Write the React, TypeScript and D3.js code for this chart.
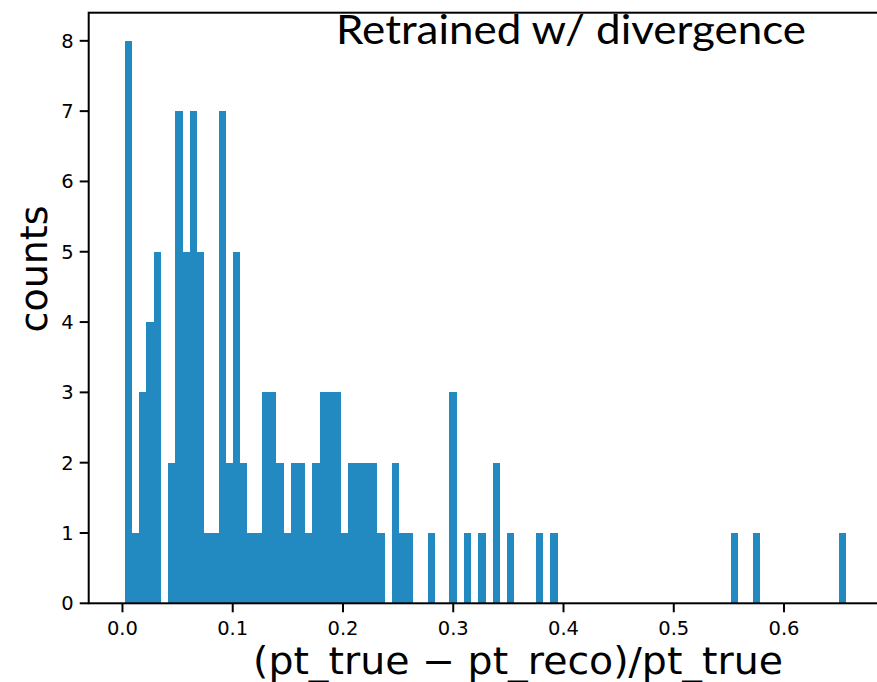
import React from "react";
import * as d3 from "d3";

// Histogram counts for 100 equal-width bins
const COUNTS: number[] = [
  8, 1, 3, 4, 5, 0, 2, 7, 5, 7,
  5, 1, 1, 7, 2, 5, 2, 1, 1, 3,
  3, 2, 1, 2, 2, 1, 2, 3, 3, 3,
  1, 2, 2, 2, 2, 1, 0, 2, 1, 1,
  0, 0, 1, 0, 0, 3, 0, 1, 0, 1,
  0, 2, 0, 1, 0, 0, 0, 1, 0, 1,
  0, 0, 0, 0, 0, 0, 0, 0, 0, 0,
  0, 0, 0, 0, 0, 0, 0, 0, 0, 0,
  0, 0, 0, 0, 1, 0, 0, 1, 0, 0,
  0, 0, 0, 0, 0, 0, 0, 0, 0, 1,
];
const BIN_START = 0.0021;
const BIN_WIDTH = 0.006544;

const X_TICKS = [0.0, 0.1, 0.2, 0.3, 0.4, 0.5, 0.6];
const Y_TICKS = [0, 1, 2, 3, 4, 5, 6, 7, 8];
const TITLE = "Retrained w/ divergence";
const X_LABEL = "(pt_true \u2212 pt_reco)/pt_true";
const Y_LABEL = "counts";

const W = 877;
const H = 682;
const LEFT = 88.7;
const RIGHT = 882.4;
const TOP = 12.7;
const BOTTOM = 603.3;

export default function App() {
  const binsLo = COUNTS.map((_, i) => BIN_START + i * BIN_WIDTH);
  const dataMin = BIN_START;
  const dataMax = BIN_START + COUNTS.length * BIN_WIDTH;
  const margin = 0.05 * (dataMax - dataMin);
  const x = d3.scaleLinear().domain([dataMin - margin, dataMax + margin]).range([LEFT, RIGHT]);
  const yMax = (d3.max(COUNTS) as number) * 1.05;
  const y = d3.scaleLinear().domain([0, yMax]).range([BOTTOM, TOP]);
  const color = "#228ac0";
  const tickFont = "DejaVu Sans, sans-serif";

  return (
    <div style={{ position: "absolute", left: 0, top: 0 }}>
      <svg width={W} height={H} style={{ display: "block", background: "#fff" }}>
        <rect x={0} y={0} width={W} height={H} fill="#fff" />
        {COUNTS.map((c, i) => {
          if (c <= 0) return null;
          const x0 = Math.round(x(binsLo[i]));
          const x1 = Math.round(x(binsLo[i] + BIN_WIDTH));
          return (
            <rect
              key={i}
              x={x0}
              y={y(c)}
              width={x1 - x0}
              height={y(0) - y(c)}
              fill={color}
              shapeRendering="crispEdges"
            />
          );
        })}
        {/* frame */}
        <rect
          x={x.range()[0]}
          y={TOP}
          width={x.range()[1] - x.range()[0]}
          height={BOTTOM - TOP}
          fill="none"
          stroke="#000"
          strokeWidth={2}
        />
        {/* x ticks */}
        {X_TICKS.map((t) => (
          <g key={"x" + t}>
            <line x1={x(t)} x2={x(t)} y1={BOTTOM} y2={BOTTOM + 9} stroke="#000" strokeWidth={2} />
            <text
              x={x(t)}
              y={635}
              textAnchor="middle"
              fontFamily={tickFont}
              fontSize={19.5}
              fill="#000"
            >
              {t.toFixed(1)}
            </text>
          </g>
        ))}
        {/* y ticks */}
        {Y_TICKS.map((t) => (
          <g key={"y" + t}>
            <line x1={LEFT - 9} x2={LEFT} y1={y(t)} y2={y(t)} stroke="#000" strokeWidth={2} />
            <text
              x={LEFT - 15}
              y={y(t)}
              dy="0.36em"
              textAnchor="end"
              fontFamily={tickFont}
              fontSize={19.5}
              fill="#000"
            >
              {t}
            </text>
          </g>
        ))}
        {/* title */}
        <text
          x={571}
          y={44}
          textAnchor="middle"
          fontFamily="Lato, 'Open Sans', sans-serif"
          fontSize={40}
          textLength={470}
          lengthAdjust="spacingAndGlyphs"
          fill="#000"
        >
          {TITLE}
        </text>
        {/* x label */}
        <text
          x={518}
          y={674}
          textAnchor="middle"
          fontFamily="DejaVu Sans, sans-serif"
          fontSize={37}
          textLength={530}
          lengthAdjust="spacingAndGlyphs"
          fill="#000"
        >
          {X_LABEL}
        </text>
        {/* y label */}
        <text
          transform={`translate(47, 269) rotate(-90)`}
          textAnchor="middle"
          fontFamily="DejaVu Sans, sans-serif"
          fontSize={38}
          fill="#000"
        >
          {Y_LABEL}
        </text>
      </svg>
    </div>
  );
}
